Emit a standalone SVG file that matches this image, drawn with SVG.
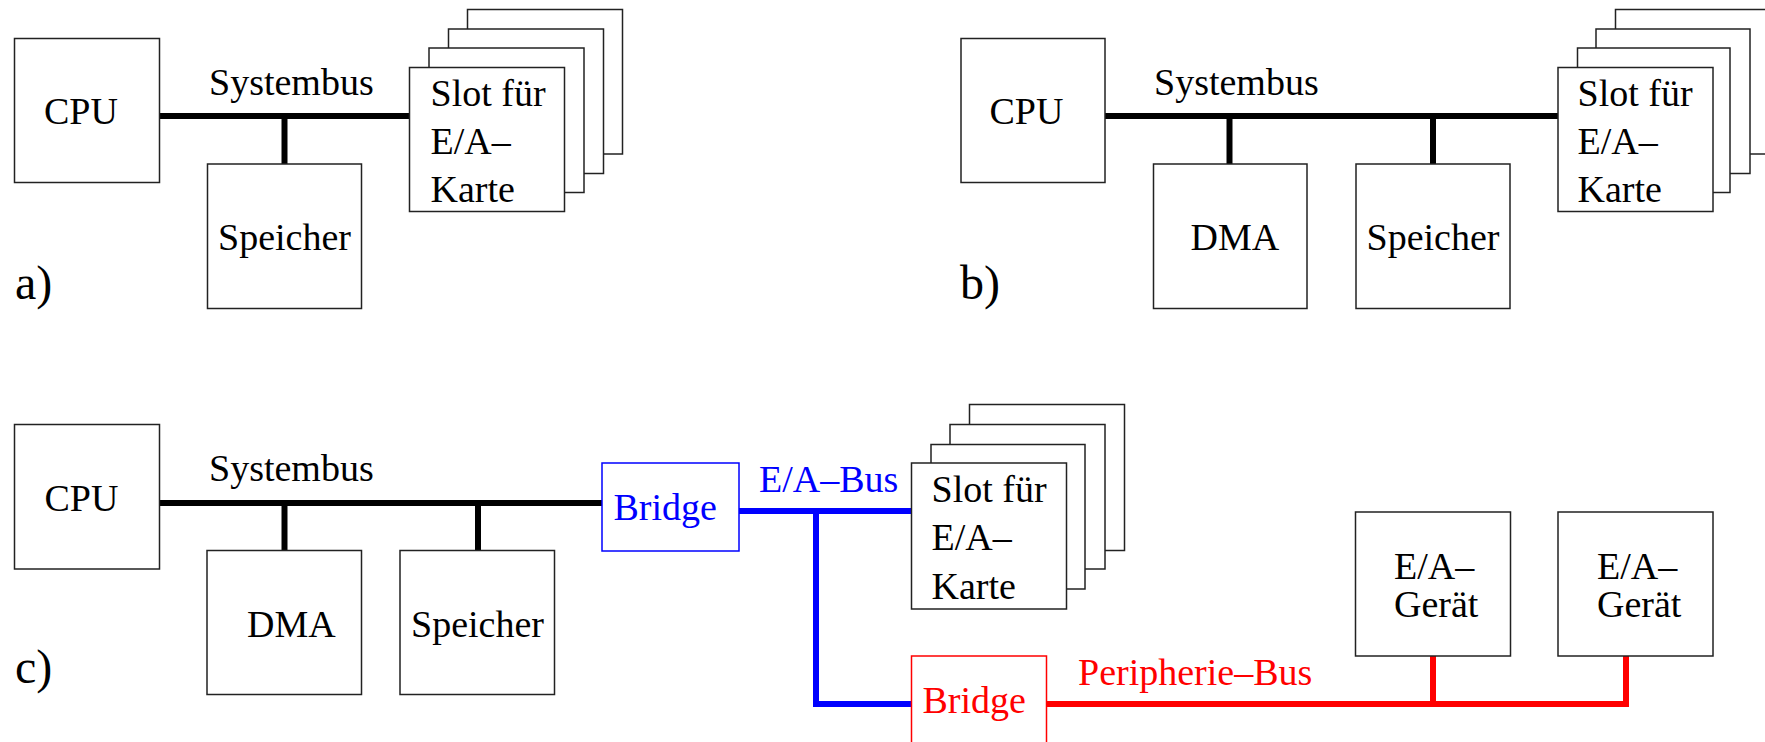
<svg xmlns="http://www.w3.org/2000/svg" width="1765" height="742" viewBox="0 0 1765 742">
<style>
.box{fill:#fff;stroke:#222;stroke-width:1.5}
.bbox{fill:#fff;stroke:#0000ff;stroke-width:1.5}
.rbox{fill:#fff;stroke:#ff0000;stroke-width:1.5}
.t{font-size:38px;fill:#000}
.lbl{font-size:48px;fill:#000}
.blue{fill:#0000ff}
.red{fill:#ff0000}
.bus{fill:none;stroke:#000;stroke-width:6}
.bbus{fill:none;stroke:#0000ff;stroke-width:6}
.rbus{fill:none;stroke:#ff0000;stroke-width:6}
</style>
<rect width="1765" height="742" fill="#fff"/>
<g font-family="'Liberation Serif', serif">
<g id="connectors">
  <!-- a) -->
  <line class="bus" x1="159" y1="116" x2="410" y2="116"/>
  <line class="bus" x1="284.5" y1="116" x2="284.5" y2="164"/>
  <text class="t" x="209" y="95">Systembus</text>
  <!-- b) -->
  <line class="bus" x1="1105" y1="116" x2="1558" y2="116"/>
  <line class="bus" x1="1229.5" y1="116" x2="1229.5" y2="164"/>
  <line class="bus" x1="1433" y1="116" x2="1433" y2="164"/>
  <text class="t" x="1154" y="95">Systembus</text>
  <!-- c) -->
  <line class="bus" x1="160" y1="503" x2="602" y2="503"/>
  <line class="bus" x1="284.5" y1="503" x2="284.5" y2="551"/>
  <line class="bus" x1="478" y1="503" x2="478" y2="551"/>
  <text class="t" x="209" y="481">Systembus</text>
  <polyline class="bbus" points="739,511 912,511"/>
  <polyline class="bbus" points="816,511 816,704 912,704"/>
  <text class="t blue" x="759" y="492">E/A–Bus</text>
  <polyline class="rbus" points="1047,704 1626,704 1626,656"/>
  <line class="rbus" x1="1433" y1="704" x2="1433" y2="656"/>
  <text class="t red" x="1078" y="685">Peripherie–Bus</text>
</g>

<!-- a) -->
<g id="a-cpu"><rect class="box" x="14.5" y="38.5" width="145" height="144"/><text class="t" x="44" y="124">CPU</text></g>
<g id="a-speicher"><rect class="box" x="207.5" y="164" width="154" height="144.5"/><text class="t" x="218" y="250">Speicher</text></g>
<g id="a-slots">
  <rect class="box" x="467.5" y="9.5" width="155" height="144.5"/>
  <rect class="box" x="448.5" y="29" width="155" height="144.5"/>
  <rect class="box" x="429" y="48" width="155" height="144.5"/>
  <rect class="box" x="409.5" y="67.5" width="155" height="144"/>
  <text class="t" x="430.5" y="106">Slot für</text>
  <text class="t" x="430.5" y="153.5">E/A–</text>
  <text class="t" x="430.5" y="202">Karte</text>
</g>
<text id="label-a" class="lbl" x="15" y="299">a)</text>

<!-- b) -->
<g id="b-cpu"><rect class="box" x="961" y="38.5" width="144" height="144"/><text class="t" x="989.5" y="124">CPU</text></g>
<g id="b-dma"><rect class="box" x="1153.5" y="164" width="153.5" height="144.5"/><text class="t" x="1190.5" y="250">DMA</text></g>
<g id="b-speicher"><rect class="box" x="1356" y="164" width="154" height="144.5"/><text class="t" x="1366.5" y="250">Speicher</text></g>
<g id="b-slots">
  <rect class="box" x="1615.5" y="9.5" width="155" height="144.5"/>
  <rect class="box" x="1596" y="29" width="154" height="144.5"/>
  <rect class="box" x="1577.5" y="48" width="152.5" height="144.5"/>
  <rect class="box" x="1558" y="67.5" width="155" height="144"/>
  <text class="t" x="1577.5" y="106">Slot für</text>
  <text class="t" x="1577.5" y="153.5">E/A–</text>
  <text class="t" x="1577.5" y="202">Karte</text>
</g>
<text id="label-b" class="lbl" x="960" y="299">b)</text>

<!-- c) -->
<g id="c-cpu"><rect class="box" x="14.5" y="424.5" width="145" height="144.5"/><text class="t" x="44.5" y="511">CPU</text></g>
<g id="c-dma"><rect class="box" x="207" y="550.5" width="154.5" height="144"/><text class="t" x="247" y="637">DMA</text></g>
<g id="c-speicher"><rect class="box" x="400" y="550.5" width="154.5" height="144"/><text class="t" x="411" y="637">Speicher</text></g>
<g id="c-bridge1"><rect class="bbox" x="602" y="463" width="137" height="88"/><text class="t blue" x="613.5" y="520">Bridge</text></g>
<g id="c-slots">
  <rect class="box" x="969.5" y="404.5" width="155" height="146"/>
  <rect class="box" x="950" y="424.5" width="155" height="144.5"/>
  <rect class="box" x="931" y="444.5" width="154" height="144.5"/>
  <rect class="box" x="911.5" y="463" width="155" height="146"/>
  <text class="t" x="931.5" y="502">Slot für</text>
  <text class="t" x="931.5" y="549.5">E/A–</text>
  <text class="t" x="931.5" y="598.5">Karte</text>
</g>
<g id="c-bridge2"><rect class="rbox" x="911.5" y="656" width="135" height="92"/><text class="t red" x="922.5" y="713">Bridge</text></g>
<g id="c-gerat1"><rect class="box" x="1355.5" y="512" width="155" height="144"/><text class="t" x="1394" y="579">E/A–</text><text class="t" x="1394" y="617">Gerät</text></g>
<g id="c-gerat2"><rect class="box" x="1558" y="512" width="155" height="144"/><text class="t" x="1597" y="579">E/A–</text><text class="t" x="1597" y="617">Gerät</text></g>
<text id="label-c" class="lbl" x="15" y="683">c)</text>
</g>
</svg>
